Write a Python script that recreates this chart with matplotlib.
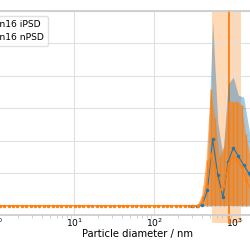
"""Particle size distribution, iPSD vs nPSD (cropped view)."""

import numpy as np
import matplotlib
matplotlib.use('Agg')
import matplotlib.pyplot as plt

# nPSD: bin diameters (nm), mean and spread
d_n = [0.8, 0.908, 1.03, 1.17, 1.33, 1.51, 1.71, 1.94, 2.2, 2.5,
       2.84, 3.22, 3.66, 4.15, 4.71, 5.35, 6.07, 6.89, 7.82, 8.88,
       10.1, 11.4, 13.0, 14.7, 16.7, 19.0, 21.5, 24.4, 27.7, 31.5,
       35.7, 40.6, 46.0, 52.3, 59.3, 67.3, 76.4, 86.7, 98.4, 112,
       127, 144, 163, 185, 210, 239, 271, 307, 349, 396,
       450, 510, 579, 657, 746, 847, 961, 1090, 1240, 1400,
       1600, 1810, 2060]
n_mean = [0.0, 0.0, 0.0, 0.0, 0.0, 0.0, 0.0, 0.0, 0.0, 0.0,
          0.0, 0.0, 0.0, 0.0, 0.0, 0.0, 0.0, 0.0, 0.0, 0.0,
          0.0, 0.0, 0.0, 0.0, 0.0, 0.0, 0.0, 0.0, 0.0, 0.0,
          0.0, 0.0, 0.0, 0.0, 0.0, 0.0, 0.0, 0.0, 0.0, 0.0,
          0.0, 0.0, 0.0, 0.0, 0.0, 0.0, 0.0, 0.0, 0.0, 0.1,
          0.6, 1.6, 1.1, 0.5, 0.6, 1.3, 1.5, 1.4, 1.2, 0.8,
          0.5, 0.3, 0.1]
n_std = [0.0, 0.0, 0.0, 0.0, 0.0, 0.0, 0.0, 0.0, 0.0, 0.0,
         0.0, 0.0, 0.0, 0.0, 0.0, 0.0, 0.0, 0.0, 0.0, 0.0,
         0.0, 0.0, 0.0, 0.0, 0.0, 0.0, 0.0, 0.0, 0.0, 0.0,
         0.0, 0.0, 0.0, 0.0, 0.0, 0.0, 0.0, 0.0, 0.0, 0.0,
         0.0, 0.0, 0.0, 0.0, 0.0, 0.0, 0.0, 0.0, 0.0, 0.2,
         0.8, 2.0, 1.6, 1.0, 1.2, 1.9, 1.7, 1.8, 1.9, 1.4,
         1.0, 0.6, 0.2]

# iPSD: bin diameters (nm), mean and spread
d_i = [296, 343, 398, 462, 536, 622, 721, 837, 971, 1126, 1307, 1516, 1759, 2040]
i_mean = [0.0, 0.0, 0.02, 0.47, 2.05, 0.95, 0.25, 1.35, 1.78, 1.52, 1.25, 1.0, 0.6, 0.3]
i_std = [0.0, 0.0, 0.05, 0.9, 3.65, 1.6, 1.3, 2.4, 2.18, 1.88, 2.1, 1.4, 0.9, 0.4]

# nPSD range and median
span_lo, span_hi = 529, 1213
d_median = 866

labels = ['Sample n16 iPSD', 'Sample n16 nPSD']

d_n, n_mean, n_std = np.array(d_n), np.array(n_mean), np.array(n_std)
d_i, i_mean, i_std = np.array(d_i), np.array(i_mean), np.array(i_std)

fig = plt.figure(figsize=(2.5, 2.5), dpi=100)
ax = fig.add_axes([-0.136, 0.14, 1.372, 0.816])

blue, orange = '#1f77b4', '#ff7f0e'

ax.axvspan(span_lo, span_hi, ymin=-0.04, ymax=1, color=orange, alpha=0.3, lw=0,
           zorder=0.5, clip_on=False)
ax.axvline(d_median, ymin=-0.04, ymax=1, color=orange, lw=1.3, zorder=0.6, clip_on=False)

ax.fill_between(d_i, np.clip(i_mean - i_std, 0, None), i_mean + i_std,
                color=blue, alpha=0.4, lw=0, zorder=1)
ax.fill_between(d_n, np.clip(n_mean - n_std, 0, None), n_mean + n_std,
                color=orange, alpha=0.6, lw=0, zorder=1.1)
ax.errorbar(d_n, n_mean, yerr=[np.minimum(n_std, n_mean), n_std], fmt='none',
            ecolor=orange, elinewidth=1.0, alpha=0.9, zorder=1.2)

ax.plot(d_i, i_mean, '-', color=blue, lw=0.8, marker='.', ms=3, label=labels[0], zorder=2)
ax.plot(d_n, n_mean, '-', color=orange, lw=0.8, marker='.', ms=3, label=labels[1], zorder=2.1)

ax.set_xscale('log')
ax.set_xlim(0.4427, 8585)
ax.set_ylim(-0.29, 6)
ax.set_yticks([0, 1, 2, 3, 4, 5, 6])
ax.set_yticklabels([])

ax.grid(True, which='major', color='0.88', lw=0.8, zorder=0)
ax.set_axisbelow(True)
for s in ax.spines.values():
    s.set_color('0.8')
    s.set_linewidth(1.25)

ax.tick_params(axis='x', which='major', length=0, pad=1, labelsize=6.6)
ax.tick_params(axis='x', which='minor', length=2, width=0.5, color='0.75')
ax.tick_params(axis='y', length=0)
ax.set_xlabel('Particle diameter / nm', fontsize=7.2, labelpad=0.5)

ax.legend(loc='upper right', bbox_to_anchor=(48 / 250, 1 - 16 / 250),
          bbox_transform=fig.transFigure, borderaxespad=0, fontsize=6.6,
          framealpha=0.8, edgecolor='0.85')

plt.savefig('out.png', dpi=100)
